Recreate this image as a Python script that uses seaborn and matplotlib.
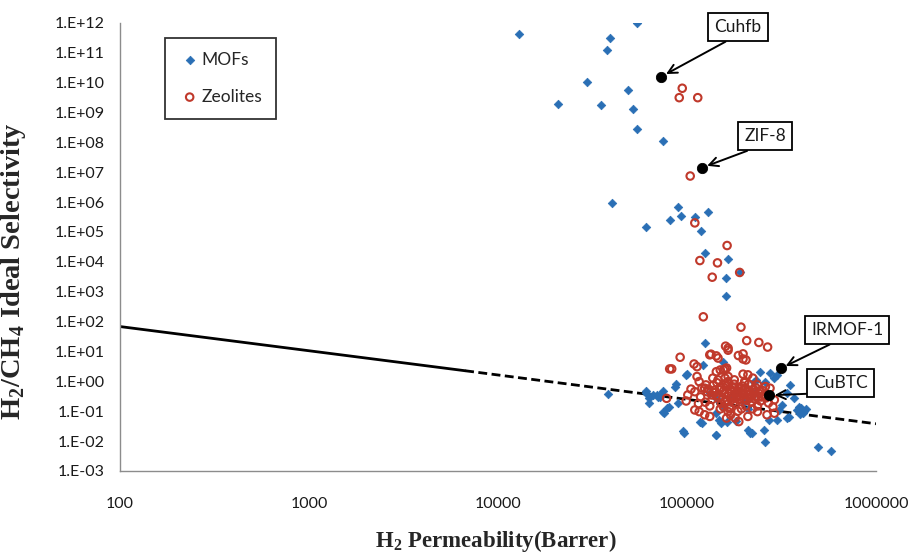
import numpy as np
import pandas as pd
import matplotlib
matplotlib.use("Agg")
import matplotlib.pyplot as plt
import matplotlib.ticker as mticker
import seaborn as sns

# ---------------- data ----------------
mof_x = [12900, 54400, 39300, 37900, 29700, 48500, 20800, 35100, 51700, 54200, 74300,
         40300, 89400, 129000, 81300, 93000, 110000, 61000, 119000,
         124000, 165000, 190000, 161000, 160000,
         125000, 156000, 122000,
         100000, 99000, 88000, 86000, 72000, 69000, 80000, 76000, 90000, 117000, 120000,
         95000, 143000, 151000, 162000, 132000, 143000, 143000,
         38400, 61000, 63000, 63000, 66000, 70000, 73000, 75000, 78000, 60700, 75000,
         242000, 275000, 290000, 300000, 350000, 340000, 370000, 320000, 305000, 270000,
         210000, 215000, 260000, 232000, 225000, 260000, 390000, 380000, 400000, 410000,
         425000, 395000, 415000, 340000, 495000, 575000, 181000, 148000, 255000, 220000,
         300000, 345000, 96000, 142000,
         170000, 200000, 185000, 230000, 155000, 210000]
mof_y = [4.3e11, 1e12, 3.1e11, 1.26e11, 1.07e10, 5.6e9, 1.95e9, 1.77e9, 1.27e9, 2.85e8, 1.07e8,
         9.5e5, 6.7e5, 4.5e5, 2.5e5, 3.3e5, 3.1e5, 1.44e5, 1.1e5,
         1.9e4, 1.26e4, 4.7e3, 2800, 740,
         19, 4.6, 3.6,
         1.8, 1.65, 0.8, 0.67, 0.31, 0.35, 0.14, 0.086, 0.19, 0.045, 0.04,
         0.021, 0.016, 0.04, 0.045, 0.40, 0.27, 0.086,
         0.38, 0.40, 0.27, 0.19, 0.35, 0.31, 0.38, 0.097, 0.127, 0.46, 0.46,
         2.1, 1.87, 1.28, 1.65, 0.76, 0.40, 0.27, 0.16, 0.11, 0.051,
         0.024, 0.018, 0.0093, 1.12, 0.98, 0.98, 0.14, 0.11, 0.13, 0.09,
         0.12, 0.08, 0.1, 0.059, 0.0063, 0.0045, 0.048, 0.05, 0.024, 0.019,
         0.05, 0.063, 0.019, 0.0154,
         0.3, 0.2, 0.5, 0.4, 0.15, 0.12]

zeo_x = [94400, 91000, 114000, 104000, 110000, 163000, 117000, 145000, 190000, 136000,
         122000, 193000, 207000, 240000, 267000, 160000, 165000, 132000, 143000, 92000,
         198000, 205000, 109000, 113000, 81000, 83000, 159000, 150000,
         146000, 134000, 143000, 156000, 113000, 116000, 126000, 124000, 137000, 146000,
         159000, 165000, 101000, 78000, 110000, 116000, 124000, 132000, 156000, 165000, 162000,
         187000, 198000, 165000, 162000, 165000, 178000, 198000, 210000, 223000, 202000,
         236000, 260000, 275000, 290000, 270000, 285000, 290000, 265000, 236000, 170000,
         180000, 188000, 210000, 159000, 168000,
         120000, 128000, 135000, 140000, 147000, 152000, 158000, 163000, 170000, 175000,
         180000, 185000, 190000, 196000, 200000, 205000, 210000, 215000, 220000, 226000,
         232000, 238000, 245000, 250000, 118000, 125000, 132000, 138000, 144000, 150000,
         160000, 168000, 178000, 186000, 194000, 202000, 212000, 222000, 236000, 255000,
         262000, 110000, 115000,
         142000, 149000, 155000, 161000, 166000, 172000, 177000, 183000, 188000, 193000,
         199000, 204000, 209000, 214000, 219000, 225000, 230000, 240000, 248000, 130000,
         136000, 141000, 152000, 157000, 171000, 176000, 182000, 191000, 197000, 207000,
         217000, 227000, 243000, 105000, 99000, 183000, 173000]
zeo_y = [6.4e9, 3.1e9, 3.1e9, 7.4e6, 2.0e5, 3.5e4, 1.1e4, 9.2e3, 4.4e3, 3050,
         144, 65, 23, 20, 14, 15, 11, 7.7, 7.1, 6.4,
         8.3, 5.2, 3.8, 3.1, 2.6, 2.6, 2.6, 2.4,
         6.0, 8.1, 2.1, 2.4, 1.45, 0.98, 0.76, 0.59, 1.28, 1.12,
         1.28, 0.98, 0.35, 0.27, 0.11, 0.097, 0.076, 0.067, 0.14, 0.097, 0.059,
         7.3, 5.6, 12.9, 2.8, 1.45, 1.12, 1.74, 1.65, 1.28, 0.98,
         0.76, 0.67, 0.59, 0.24, 0.19, 0.14, 0.086, 0.076, 0.097, 0.076,
         0.059, 0.045, 0.067, 0.21, 0.14,
         0.6, 0.45, 0.35, 0.5, 0.28, 0.62, 0.4, 0.22, 0.55, 0.3,
         0.18, 0.45, 0.25, 0.7, 0.35, 0.15, 0.5, 0.28, 0.2, 0.42,
         0.6, 0.3, 0.22, 0.5, 0.3, 0.2, 0.15, 0.75, 0.9, 0.12,
         0.85, 0.12, 0.8, 0.1, 0.12, 0.9, 0.8, 0.12, 0.15, 0.35,
         0.28, 0.45, 0.18,
         0.33, 0.52, 0.26, 0.68, 0.38, 0.24, 0.62, 0.33, 0.58, 0.4,
         0.27, 0.6, 0.36, 0.45, 0.32, 0.55, 0.25, 0.4, 0.3, 0.55,
         0.25, 0.42, 0.18, 0.5, 0.45, 0.2, 0.27, 0.32, 0.5, 0.23,
         0.38, 0.26, 0.48, 0.55, 0.22, 0.4, 0.65]

special_names = ["Cuhfb", "ZIF-8", "IRMOF-1", "CuBTC"]
special_x = [73000, 120000, 313000, 272000]
special_y = [1.56e10, 1.4e7, 2.7, 0.34]

bound_x_solid = [100, 6700]
bound_y_solid = [68, 2.26]
bound_x_dash = [6700, 1000000]
bound_y_dash = [2.26, 0.038]

x_ticks = [100, 1000, 10000, 100000, 1000000]
y_exps = list(range(-3, 13))

# ---------------- style ----------------
sns.set_style("white")
plt.rcParams["font.family"] = ["Lato", "DejaVu Sans"]
plt.rcParams["mathtext.fontset"] = "custom"
plt.rcParams["mathtext.rm"] = "Liberation Serif:bold"
plt.rcParams["mathtext.bf"] = "Liberation Serif:bold"

BLUE = "#2A6FB5"
RED = "#C0392B"
GRAY = "#8C8C8C"

fig = plt.figure(figsize=(9.14, 5.56), dpi=100)
ax = fig.add_axes([0.1313, 0.1529, 0.8271, 0.8063])

mof_df = pd.DataFrame({"x": mof_x, "y": mof_y})
zeo_df = pd.DataFrame({"x": zeo_x, "y": zeo_y})

sns.lineplot(x=bound_x_solid, y=bound_y_solid, ax=ax, color="black", lw=2.0, zorder=1)
sns.lineplot(x=bound_x_dash, y=bound_y_dash, ax=ax, color="black", lw=2.0,
             linestyle=(0, (3.2, 1.6)), zorder=1)

sns.scatterplot(data=mof_df, x="x", y="y", ax=ax, marker="D", s=19, color=BLUE,
                edgecolor=BLUE, linewidth=0.5, label="MOFs", zorder=3)
sns.scatterplot(data=zeo_df, x="x", y="y", ax=ax, marker="o", s=29, facecolor="none",
                edgecolor=RED, linewidth=1.5, label="Zeolites", zorder=4)
sns.scatterplot(x=special_x, y=special_y, ax=ax, marker="o", s=55, color="black",
                edgecolor="black", zorder=6, legend=False)

ax.set_xscale("log")
ax.set_yscale("log")
ax.set_xlim(100, 1e6)
ax.set_ylim(1e-3, 1e12)

ax.xaxis.set_major_locator(mticker.FixedLocator(x_ticks))
ax.xaxis.set_minor_locator(mticker.NullLocator())
ax.xaxis.set_major_formatter(mticker.FuncFormatter(lambda v, p: f"{int(round(v))}"))
ax.yaxis.set_major_locator(mticker.FixedLocator([10.0 ** e for e in y_exps]))
ax.yaxis.set_minor_locator(mticker.NullLocator())
ax.yaxis.set_major_formatter(mticker.FuncFormatter(
    lambda v, p: "1.E{:+03d}".format(int(round(np.log10(v))))))

for s in ["top", "right"]:
    ax.spines[s].set_visible(False)
for s in ["left", "bottom"]:
    ax.spines[s].set_color(GRAY)
    ax.spines[s].set_linewidth(1.0)
ax.tick_params(axis="both", which="major", direction="out", length=5, width=1,
               color=GRAY, labelsize=11.5, labelcolor="#1a1a1a")
ax.tick_params(axis="x", pad=14)
ax.tick_params(axis="y", pad=6)

ax.set_xlabel(r"H$_{\mathbf{2}}$ Permeability(Barrer)", fontsize=16.5,
              fontfamily="Liberation Serif", fontweight="bold")
ax.set_ylabel(r"H$_{\mathbf{2}}$/CH$_{\mathbf{4}}$ Ideal Selectivity", fontsize=20.5,
              fontfamily="Liberation Serif", fontweight="bold")
ax.xaxis.set_label_coords(0.497, -0.128)
ax.yaxis.set_label_coords(-0.122, 0.446)

leg = ax.legend(loc="upper left", bbox_to_anchor=(0.06, 0.966), borderaxespad=0,
                fontsize=12.5, labelspacing=1.2, handletextpad=0.1, handlelength=1.2,
                borderpad=0.8, fancybox=False, frameon=True, markerscale=1.0)
leg.get_frame().set_edgecolor("black")
leg.get_frame().set_linewidth(1.3)

# annotations
text_pos = {"Cuhfb": (186000, 7.2e11), "ZIF-8": (259000, 1.6e8),
            "IRMOF-1": (703000, 53), "CuBTC": (646000, 0.89)}
rel = {"Cuhfb": (0.5, 0.0), "ZIF-8": (0.5, 0.0), "IRMOF-1": (0.45, 0.0), "CuBTC": (0.5, -0.1)}
for name, px, py in zip(special_names, special_x, special_y):
    ax.annotate(name, xy=(px, py), xytext=text_pos[name], textcoords="data",
                ha="center", va="center", fontsize=12.5, color="#1a1a1a",
                bbox=dict(boxstyle="square,pad=0.35", fc="white", ec="black", lw=1.3),
                arrowprops=dict(arrowstyle="->", color="black", lw=1.4,
                                relpos=rel[name], shrinkA=0, shrinkB=4,
                                mutation_scale=16),
                zorder=7)

fig.savefig("out.png", dpi=100)
